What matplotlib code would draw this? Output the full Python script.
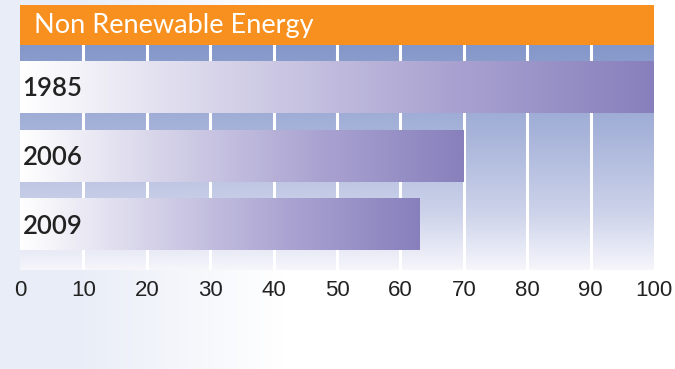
import numpy as np
import matplotlib
matplotlib.use("Agg")
import matplotlib.pyplot as plt
from matplotlib.colors import LinearSegmentedColormap
from matplotlib.patches import Rectangle

# ---- data ----
title = "Non Renewable Energy"
years = ["1985", "2006", "2009"]
values = [100, 70, 63]
ticks = [0, 10, 20, 30, 40, 50, 60, 70, 80, 90, 100]

W, H = 675, 369
fig = plt.figure(figsize=(W / 100, H / 100), dpi=100)
fig.patch.set_facecolor("white")

# faint decorative background on the left
bg = fig.add_axes([0, 0, 1, 1], zorder=-10)
xs = np.linspace(0, 1, 300)
fade = np.clip(1 - (xs - 0.12) / 0.3, 0, 1)
img = np.ones((10, 300, 4))
img[..., 0] = 0.86
img[..., 1] = 0.89
img[..., 2] = 0.95
img[..., 3] = fade[None, :] * 0.6
bg.imshow(np.ones((2, 2, 3)), extent=[0, 1, 0, 1], aspect="auto")
bg.imshow(img, extent=[0, 1, 0, 1], aspect="auto")
bg.set_axis_off()

# main axes
x0, x1 = 20, 654
y_top, y_bot = 45, 270
ax = fig.add_axes([x0 / W, 1 - y_bot / H, (x1 - x0) / W, (y_bot - y_top) / H])
ax.set_xlim(0, 100)
ylo, yhi = 2.66, -0.62
ax.set_ylim(ylo, yhi)

# vertical background gradient
bg_cmap = LinearSegmentedColormap.from_list(
    "bgc", [(0, "#8497C9"), (0.4, "#A8B4DA"), (0.75, "#CDD3EA"), (1, "#F6F6FB")])
grad = np.linspace(0, 1, 256)[:, None]
ax.imshow(grad, cmap=bg_cmap, extent=[0, 100, ylo, yhi], aspect="auto",
          origin="upper", zorder=0)

# gridlines
for t in ticks[1:-1]:
    ax.axvline(t, color="white", lw=2.2, zorder=1)

# gradient bars
bar_cmap = LinearSegmentedColormap.from_list(
    "barc", ["#FFFFFF", "#D4D1E8", "#ABA4D2", "#8780BC"])
hgrad = np.linspace(0, 1, 256)[None, :]
h = 0.745
for i, v in enumerate(values):
    ax.imshow(hgrad, cmap=bar_cmap, extent=[0, v, i + h / 2, i - h / 2],
              aspect="auto", zorder=2)
    ax.text(0.4, i + 0.02, years[i], fontsize=18.5, color="#222222",
            fontweight="semibold", family=["Lato", "DejaVu Sans"],
            va="center", ha="left", zorder=3)

ax.set_xlim(0, 100)
ax.set_ylim(ylo, yhi)
ax.set_xticks(ticks)
ax.set_xticklabels([str(t) for t in ticks],
                   family=["Liberation Sans Narrow", "Liberation Sans", "DejaVu Sans"],
                   fontsize=16, color="#222222")
ax.tick_params(axis="x", length=0, pad=7)
ax.set_yticks([])
for s in ax.spines.values():
    s.set_visible(False)

# title bar
fig.patches.append(Rectangle((x0 / W, 1 - 45 / H), (x1 - x0) / W, 40 / H,
                             transform=fig.transFigure, facecolor="#F7901E",
                             edgecolor="none", zorder=5))
fig.text(34 / W, 1 - 25 / H, title, color="white", fontsize=19.5,
         family=["Lato", "DejaVu Sans"], va="center", ha="left", zorder=6)

fig.savefig("out.png", dpi=100)
